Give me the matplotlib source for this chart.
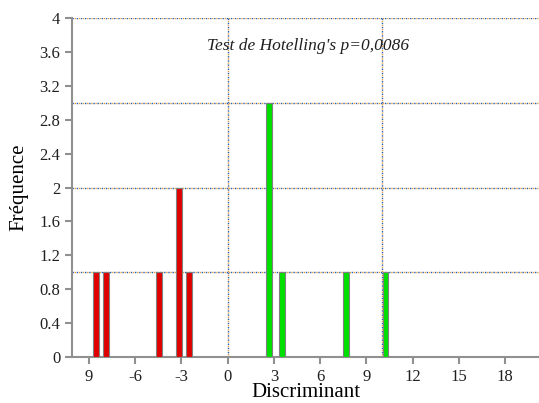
import matplotlib.pyplot as plt
import numpy as np

plt.rcParams['font.family'] = 'Liberation Serif'

# data
red_x = [-8.55, -7.9, -4.47, -3.18, -2.53]
red_h = [1, 1, 1, 2, 1]
green_x = [2.66, 3.5, 7.65, 10.24]
green_h = [3, 1, 1, 1]

xticks = [-9, -6, -3, 0, 3, 6, 9, 12, 15, 18]
xticklabels = ['9', '-6', '-3', '0', '3', '6', '9', '12', '15', '18']
yticks = [0, 0.4, 0.8, 1.2, 1.6, 2, 2.4, 2.8, 3.2, 3.6, 4]
yticklabels = ['0', '0.4', '0.8', '1.2', '1.6', '2', '2.4', '2.8', '3.2', '3.6', '4']
hgrid = [1, 2, 3, 4]
vgrid = [0, 10]

fig = plt.figure(figsize=(5.39, 4.03), dpi=100)
ax = fig.add_axes([72/539, 46/403, 467/539, 339/403])

# two-colour dotted grid
for y in hgrid:
    ax.axhline(y, color='#2a5db0', lw=1, ls=(0, (1, 2)), zorder=1)
    ax.axhline(y, color='#e0a040', lw=1, ls=(1.5, (1, 2)), zorder=1)
for x in vgrid:
    ax.axvline(x, color='#2a5db0', lw=1, ls=(0, (1, 2)), zorder=1)
    ax.axvline(x, color='#e0a040', lw=1, ls=(1.5, (1, 2)), zorder=1)

ax.bar(red_x, red_h, width=0.38, color='#e00000', edgecolor='#808080', linewidth=0.8, zorder=3)
ax.bar(green_x, green_h, width=0.38, color='#00e000', edgecolor='#808080', linewidth=0.8, zorder=3)

ax.set_xlim(-10.1, 20.2)
ax.set_ylim(0, 4)
ax.set_xticks(xticks)
ax.set_xticklabels(xticklabels)
ax.set_yticks(yticks)
ax.set_yticklabels(yticklabels)
ax.tick_params(axis='both', labelsize=12, color='#909090', length=5, width=1.5, labelcolor='#202020')

for s in ['top', 'right']:
    ax.spines[s].set_visible(False)
for s in ['left', 'bottom']:
    ax.spines[s].set_color('#909090')
    ax.spines[s].set_linewidth(1.5)

ax.set_xlabel('Discriminant', fontsize=15, labelpad=-1)
ax.set_ylabel('Fréquence', fontsize=15, labelpad=8)

ax.text(5.2, 3.67, "Test de Hotelling's p=0,0086", fontsize=12.5, style='italic',
        ha='center', va='center', color='#202020')

fig.savefig('out.png', dpi=100)
